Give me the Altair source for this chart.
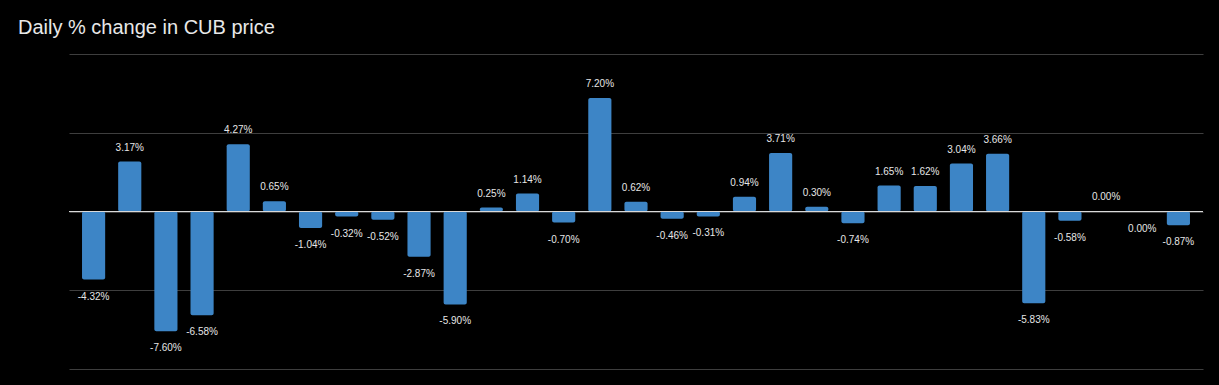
import altair as alt
import pandas as pd
import jinja2

values = [-4.32, 3.17, -7.60, -6.58, 4.27, 0.65, -1.04, -0.32, -0.52, -2.87,
          -5.90, 0.25, 1.14, -0.70, 7.20, 0.62, -0.46, -0.31, 0.94, 3.71,
          0.30, -0.74, 1.65, 1.62, 3.04, 3.66, -5.83, -0.58, 0.001, -0.001,
          -0.87]
days = list(range(1, len(values) + 1))
grid_values = [-10, -5, 0, 5, 10]


def fmt(v):
    r = round(v, 2)
    if r == 0:
        return "0.00%"
    return f"{r:.2f}%"


df = pd.DataFrame({
    "day": days,
    "pct": values,
    "label": [fmt(v) for v in values],
})

x_enc = alt.X("day:O", axis=None,
              scale=alt.Scale(paddingInner=0.36, paddingOuter=0.36))
y_scale = alt.Scale(domain=[-10, 10], nice=False, zero=False)

bars = alt.Chart(df).mark_bar(color="#3d85c6", cornerRadius=2).encode(
    x=x_enc,
    y=alt.Y("pct:Q", scale=y_scale,
            axis=alt.Axis(values=grid_values, labels=False, ticks=False,
                          domain=False, title=None, grid=True,
                          gridColor="#3e3e3e", gridWidth=1)),
    y2=alt.datum(0),
)

zero = alt.Chart(pd.DataFrame({"z": [0]})).mark_rule(
    color="#d9d9d9", strokeWidth=1).encode(y=alt.Y("z:Q", scale=y_scale))

pos_labels = alt.Chart(df).transform_filter("datum.pct >= 0").mark_text(
    baseline="alphabetic", dy=-11, fontSize=10, font="Liberation Sans",
    color="#e6e6e6").encode(
    x=x_enc, y=alt.Y("pct:Q", scale=y_scale), text="label:N")

neg_labels = alt.Chart(df).transform_filter("datum.pct < 0").mark_text(
    baseline="top", dy=12, fontSize=10, font="Liberation Sans",
    color="#e6e6e6").encode(
    x=x_enc, y=alt.Y("pct:Q", scale=y_scale), text="label:N")

chart = alt.layer(bars, zero, pos_labels, neg_labels).properties(
    width=1134,
    height=315,
    background="#000000",
    padding={"left": 61, "top": 46, "right": 8, "bottom": 8},
    autosize=alt.AutoSizeParams(type="none"),
    title=alt.Title("Daily % change in CUB price", anchor="start",
                    frame="group",
                    font="Liberation Sans", fontSize=20, fontWeight="normal",
                    color="#e8e8e8", baseline="alphabetic", dx=-51, offset=0),
).configure_view(stroke=None)

page = jinja2.Template("""<!DOCTYPE html>
<html>
<head>
<style>html, body { background: #000000; }</style>
<script type="text/javascript" src="{{ base_url }}/vega@{{ vega_version }}"></script>
<script type="text/javascript" src="{{ base_url }}/vega-lite@{{ vegalite_version }}"></script>
<script type="text/javascript" src="{{ base_url }}/vega-embed@{{ vegaembed_version }}"></script>
</head>
<body>
<div id="{{ output_div }}"></div>
<script>
vegaEmbed("#{{ output_div }}", {{ spec }}, {{ embed_options }});
</script>
</body>
</html>
""")

try:
    chart.save("out.html", embed_options={"renderer": "svg", "actions": False},
               template=page)
except TypeError:
    chart.save("out.html", embed_options={"renderer": "svg", "actions": False})
